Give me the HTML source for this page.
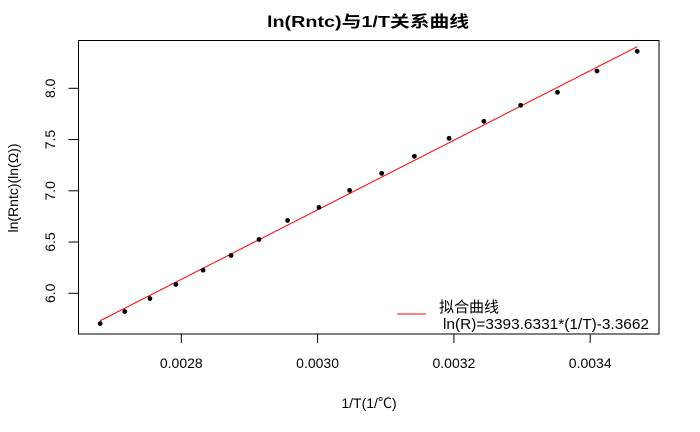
<!DOCTYPE html>
<html><head><meta charset="utf-8"><style>
html,body{margin:0;padding:0;background:#fff;}
svg{display:block;font-family:"Liberation Sans","Noto Sans CJK SC",sans-serif;}
</style></head><body>
<svg id="chart" width="700" height="432">
<text x="267" y="27" textLength="202" lengthAdjust="spacingAndGlyphs" font-size="16" font-weight="bold">ln(Rntc)与1/T关系曲线</text>
<rect x="78.5" y="40.5" width="580.5" height="293.5" fill="none" stroke="#000" stroke-width="1"/>
<g id="xaxis"></g>
<g id="yaxis"></g>
<text x="369" y="408" text-anchor="middle" font-size="14">1/T(1/℃)</text>
<text transform="translate(18,188) rotate(-90)" text-anchor="middle" font-size="14">ln(Rntc)(ln(Ω))</text>
<g id="marks"></g>
<g>
<line x1="397" y1="314" x2="426" y2="314" stroke="#ff0000" stroke-width="1"/>
<text x="439" y="312" font-size="15">拟合曲线</text>
<text x="443" y="329" font-size="15" textLength="206" lengthAdjust="spacingAndGlyphs">ln(R)=3393.6331*(1/T)-3.3662</text>
</g>
</svg>
<script>
const xValues=[0.002681,0.002717,0.002754,0.002792,0.002832,0.002873,0.002914,0.002956,0.003002,0.003047,0.003094,0.003142,0.003193,0.003244,0.003298,0.003352,0.003410,0.003469];
const yValues=[5.705,5.822,5.949,6.086,6.226,6.369,6.525,6.711,6.838,7.004,7.170,7.336,7.512,7.678,7.834,7.961,8.169,8.361];
const xTicks=[0.0028,0.0030,0.0032,0.0034];
const xTickLabels=["0.0028","0.0030","0.0032","0.0034"];
const yTicks=[6.0,6.5,7.0,7.5,8.0];
const yTickLabels=["6.0","6.5","7.0","7.5","8.0"];
const fitSlope=3393.6331;
const fitIntercept=-3.3662;

const NS="http://www.w3.org/2000/svg";
function sx(v){return 181.3+(v-0.0028)*(136.3/0.0002);}
function sy(v){return 293.3-(v-6.0)*(51.25/0.5);}
function mk(tag,attrs,parent){const e=document.createElementNS(NS,tag);for(const k in attrs)e.setAttribute(k,attrs[k]);parent.appendChild(e);return e;}
const xa=document.getElementById('xaxis'),ya=document.getElementById('yaxis'),mg=document.getElementById('marks');
xTicks.forEach((t,i)=>{
  const l=mk('line',{x1:sx(t),x2:sx(t),y1:334,y2:343,stroke:'#000'},xa);
  
  
  const tx=mk('text',{x:sx(t),y:368,'text-anchor':'middle','font-size':14},xa);
  tx.textContent=xTickLabels[i];
  
  
});
yTicks.forEach((t,i)=>{
  const l=mk('line',{x1:68.5,x2:78.5,y1:sy(t),y2:sy(t),stroke:'#000'},ya);
  
  
  const tx=mk('text',{transform:`translate(55,${sy(t)}) rotate(-90)`,'text-anchor':'middle','font-size':14},ya);
  tx.textContent=yTickLabels[i];
  
  
});
const x0=xValues[0],x1=xValues[xValues.length-1];
const fl=mk('line',{x1:sx(x0),y1:sy(fitSlope*x0+fitIntercept),x2:sx(x1),y2:sy(fitSlope*x1+fitIntercept),stroke:'#ff0000','stroke-width':1},mg);


xValues.forEach((x,i)=>{
  const c=mk('circle',{cx:sx(x),cy:sy(yValues[i]),r:2.4,fill:'#000'},mg);
  
  
});
</script>
</body></html>
